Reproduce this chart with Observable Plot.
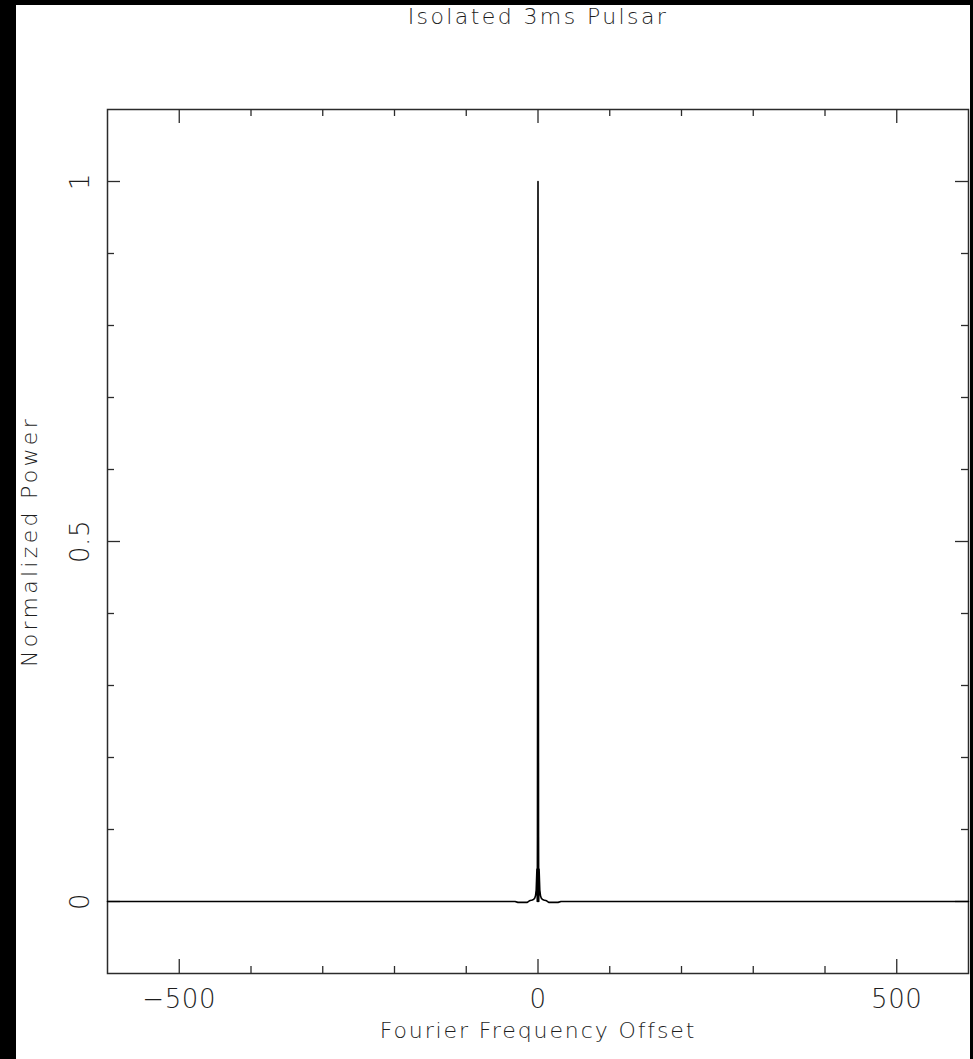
<!DOCTYPE html>
<html>
<head>
<meta charset="utf-8">
<script src="https://cdn.jsdelivr.net/npm/d3@7"></script>
<script src="https://cdn.jsdelivr.net/npm/@observablehq/plot@0.6"></script>
<style>
  html, body { margin: 0; padding: 0; background: #fff; }
  #wrap { position: relative; width: 973px; height: 1059px; overflow: hidden; }
  .edge { position: absolute; background: #000; }
  svg text { font-family: "DejaVu Sans", "Liberation Sans", sans-serif; font-weight: 200; }
</style>
</head>
<body>
<div id="wrap">
  <div id="chart"></div>
  <div class="edge" style="left:0;top:0;width:16px;height:1059px"></div>
  <div class="edge" style="left:0;top:0;width:973px;height:5px"></div>
  <div class="edge" style="left:970px;top:0;width:3px;height:1059px"></div>
</div>
<script>
// Fourier response of an isolated 3 ms pulsar around the signal bin
const freqOffset = [-600, -100, -32, -28, -15, -12, -8, -6, -4.5, -3.5, -2.5, -1.5, -1, -0.75, -0.5, -0.25,
                    0, 0.25, 0.5, 0.75, 1, 1.5, 2.5, 3.5, 4.5, 6, 8, 12, 15, 28, 32, 100, 600];
const power = [0, 0, 0, -0.0012, -0.0012, 0.001, 0.002, 0.003, 0.005, 0.008, 0.016, 0.045, 0, 0.09, 0.40, 0.77,
               1.0, 0.77, 0.40, 0.09, 0, 0.045, 0.016, 0.008, 0.005, 0.003, 0.002, 0.001, -0.0012, -0.0012, 0, 0, 0];

// axis ticks and labels
const xMajor = [-500, 0, 500];
const xTickLabels = ["\u2212500", "0", "500"];
const xMinor = [-400, -300, -200, -100, 100, 200, 300, 400];
const yMajor = [0, 0.5, 1];
const yTickLabels = ["0", "0.5", "1"];
const yMinor = [0.1, 0.2, 0.3, 0.4, 0.6, 0.7, 0.8, 0.9];

const title = "Isolated 3ms Pulsar";
const xTitle = "Fourier Frequency Offset";
const yTitle = "Normalized Power";

const spectrum = freqOffset.map((f, i) => ({f, p: power[i]}));

const W = 973, H = 1059;
const mL = 107, mR = 5, mT = 109, mB = 86;
const innerW = W - mL - mR, innerH = H - mT - mB;
const ink = "#2b2b2b";
const textInk = "#1e1e1e";

const chart = Plot.plot({
  width: W,
  height: H,
  marginLeft: mL,
  marginRight: mR,
  marginTop: mT,
  marginBottom: mB,
  style: {background: "transparent", overflow: "visible"},
  x: {domain: [-600, 600], axis: null},
  y: {domain: [-0.1, 1.1], axis: null},
  marks: [
    Plot.frame({stroke: ink, strokeWidth: 1.5}),
    // ticks pointing inward on all four sides
    Plot.tickX(xMajor, {x: d => d, insetTop: innerH - 14, stroke: ink, strokeWidth: 1.3}),
    Plot.tickX(xMinor, {x: d => d, insetTop: innerH - 7, stroke: ink, strokeWidth: 1.3}),
    Plot.tickX(xMajor, {x: d => d, insetBottom: innerH - 14, stroke: ink, strokeWidth: 1.3}),
    Plot.tickX(xMinor, {x: d => d, insetBottom: innerH - 7, stroke: ink, strokeWidth: 1.3}),
    Plot.tickY(yMajor, {y: d => d, insetRight: innerW - 13, stroke: ink, strokeWidth: 1.3}),
    Plot.tickY(yMinor, {y: d => d, insetRight: innerW - 7, stroke: ink, strokeWidth: 1.3}),
    Plot.tickY(yMajor, {y: d => d, insetLeft: innerW - 13, stroke: ink, strokeWidth: 1.3}),
    Plot.tickY(yMinor, {y: d => d, insetLeft: innerW - 7, stroke: ink, strokeWidth: 1.3}),
    // the power curve
    Plot.line(spectrum, {x: "f", y: "p", stroke: "#000", strokeWidth: 1.6, curve: "linear"}),
    // tick labels
    Plot.text(xMajor, {x: d => d, text: (d, i) => xTickLabels[i], frameAnchor: "bottom",
      dy: 34, lineAnchor: "bottom", textAnchor: "middle", fontSize: 26, fill: textInk}),
    Plot.text(yMajor, {y: d => d, text: (d, i) => yTickLabels[i], frameAnchor: "left",
      dx: -19, rotate: -90, lineAnchor: "bottom", textAnchor: "middle", fontSize: 26, fill: textInk}),
    // titles
    Plot.text([title], {text: d => d, frameAnchor: "top", dy: -86, lineAnchor: "bottom",
      textAnchor: "middle", fontSize: 22, fill: textInk}),
    Plot.text([xTitle], {text: d => d, frameAnchor: "bottom", dy: 64, lineAnchor: "bottom",
      textAnchor: "middle", fontSize: 22, fill: textInk}),
    Plot.text([yTitle], {text: d => d, frameAnchor: "left", dx: -71, rotate: -90, lineAnchor: "bottom",
      textAnchor: "middle", fontSize: 22, fill: textInk})
  ]
});

// wide letter spacing for the titles and tick labels
const spacing = new Map([[title, 2.4], [xTitle, 1.9], [yTitle, 3.3]]);
d3.select(chart).selectAll("text").each(function() {
  const s = spacing.get(this.textContent);
  this.setAttribute("letter-spacing", s != null ? s : 0.6);
});

document.getElementById("chart").appendChild(chart);
</script>
</body>
</html>
